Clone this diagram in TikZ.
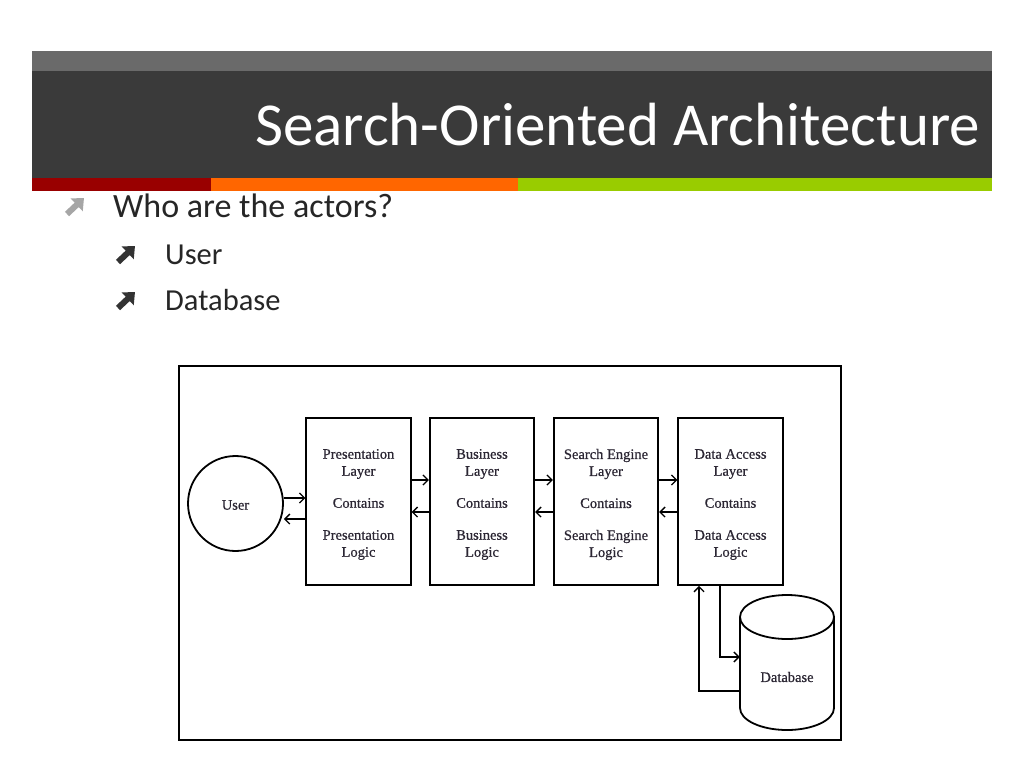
\documentclass[tikz,border=0pt]{standalone}
\usepackage{fontspec}
\setmainfont{Carlito}
\newfontfamily\diagfont[FakeBold=0.6]{Liberation Serif}
\usetikzlibrary{arrows.meta}
\definecolor{bartop}{HTML}{6A6A6A}
\definecolor{bardark}{HTML}{3A3A3A}
\definecolor{stripered}{HTML}{990000}
\definecolor{stripeorange}{HTML}{FF6600}
\definecolor{stripegreen}{HTML}{99CC00}
\definecolor{bodytext}{HTML}{262626}
\definecolor{diagtext}{HTML}{2B2633}
\definecolor{bulletgray}{HTML}{A6A6A6}
\definecolor{bulletdark}{HTML}{333333}
\begin{document}
\begin{tikzpicture}[x=1pt,y=-1pt,
  diaglabel/.style={text=diagtext, font={\diagfont\fontsize{14.5pt}{17pt}\selectfont}},
  layerbox/.style={diaglabel, draw, line width=1.8pt, minimum width=104.5pt, minimum height=167pt,
    inner sep=0pt, align=center},
  flow/.style={line width=1.3pt, -{Straight Barb[length=5pt,width=10pt]}},
  bulletarrow/.style={line width=6pt, -{Triangle[length=10pt,width=17pt]}},
  slidetext/.style={anchor=base west, inner sep=0pt, text=bodytext}]
\useasboundingbox (0,0) rectangle (1024,768);
\fill[white] (0,0) rectangle (1024,768);
% title band
\fill[bartop] (32,51) rectangle (992,71);
\fill[bardark] (32,71) rectangle (992,178);
\fill[stripered] (32,178) rectangle (211,191);
\fill[stripeorange] (211,178) rectangle (518,191);
\fill[stripegreen] (518,178) rectangle (992,191);
\node[anchor=base east, inner sep=0pt, text=white,
  font={\fontsize{61pt}{73pt}\selectfont}] (title) at (980,145) {Search-Oriented Architecture};
% bullets
\draw[bulletarrow, bulletgray] (67,214) -- (84,198);
\node[slidetext, font={\fontsize{34pt}{40pt}\selectfont}] (q) at (113,217) {Who are the actors?};
\draw[bulletarrow, bulletdark] (118,262) -- (135,246);
\node[slidetext, font={\fontsize{30.5pt}{36pt}\selectfont}] (a1) at (165,264) {User};
\draw[bulletarrow, bulletdark] (118,308) -- (135,292);
\node[slidetext, font={\fontsize{30.5pt}{36pt}\selectfont}] (a2) at (165,310) {Database};
% diagram frame
\draw[line width=2pt] (179,366) rectangle (841,740);
% user
\node[diaglabel, circle, draw, line width=1.8pt, minimum size=95pt, inner sep=0pt] (user) at (235.5,503.5) {};
\node[diaglabel] (userlabel) at (235.5,505) {User};
% layers
\node[layerbox] (pres) at (358.5,501.5) {};
\node[layerbox] (bus) at (482,501.5) {};
\node[layerbox] (search) at (606,501.5) {};
\node[layerbox] (data) at (730.5,501.5) {};
\node[diaglabel, align=center] (prestext) at (358.5,504.5) {Presentation\\Layer\\[15pt]Contains\\[15pt]Presentation\\Logic};
\node[diaglabel, align=center] (bustext) at (482,504.5) {Business\\Layer\\[15pt]Contains\\[15pt]Business\\Logic};
\node[diaglabel, align=center] (searchtext) at (606,504.5) {Search Engine\\Layer\\[15pt]Contains\\[15pt]Search Engine\\Logic};
\node[diaglabel, align=center] (datatext) at (730.5,504.5) {Data Access\\Layer\\[15pt]Contains\\[15pt]Data Access\\Logic};
% database
\node[minimum width=94pt, minimum height=91pt, inner sep=0pt] (db) at (787,662.5) {};
\draw[line width=1.8pt] (787,617) ellipse [x radius=47pt, y radius=22pt];
\draw[line width=1.8pt] (740,617) -- (740,708) arc[start angle=180, end angle=360, x radius=47pt, y radius=22pt] -- (834,617);
\node[diaglabel] (dblabel) at (787,677) {Database};
% arrows
\draw[flow] ([yshift=5.5pt]user.east) -- ([yshift=5.5pt]user.east -| pres.west);
\draw[flow] ([yshift=-15.5pt]user.east -| pres.west) -- ([yshift=-15.5pt]user.east);
\draw[flow] ([yshift=21.5pt]pres.east) -- ([yshift=21.5pt]bus.west);
\draw[flow] ([yshift=-10.5pt]bus.west) -- ([yshift=-10.5pt]pres.east);
\draw[flow] ([yshift=21.5pt]bus.east) -- ([yshift=21.5pt]search.west);
\draw[flow] ([yshift=-10.5pt]search.west) -- ([yshift=-10.5pt]bus.east);
\draw[flow] ([yshift=21.5pt]search.east) -- ([yshift=21.5pt]data.west);
\draw[flow] ([yshift=-10.5pt]data.west) -- ([yshift=-10.5pt]search.east);
\draw[flow] ([xshift=-10.5pt]data.south) |- ([yshift=5.5pt]db.west);
\draw[flow] ([yshift=-28.5pt]db.west) -| ([xshift=-31.5pt]data.south);
\end{tikzpicture}
\end{document}
